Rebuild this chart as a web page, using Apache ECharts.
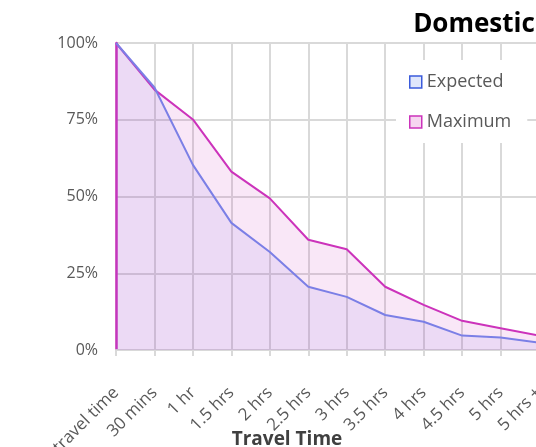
<!DOCTYPE html>
<html>
<head>
<meta charset="utf-8">
<script src="https://cdn.jsdelivr.net/npm/echarts@6/dist/echarts.min.js"></script>
<style>
  html, body { margin: 0; padding: 0; background: #fff; }
  #main { width: 536px; height: 447px; }
</style>
</head>
<body>
<div id="main"></div>
<script>
// categories on the x axis
var categories = ['No travel time', '30 mins', '1 hr', '1.5 hrs', '2 hrs', '2.5 hrs',
  '3 hrs', '3.5 hrs', '4 hrs', '4.5 hrs', '5 hrs', '5 hrs +'];
// share of trips (%)
var expected = [100, 85.5, 60.3, 41.4, 31.9, 20.6, 17.3, 11.4, 9.2, 4.7, 4.1, 2.4];
var maximum = [100, 84.8, 75.1, 58.1, 49.4, 35.9, 32.8, 20.6, 14.7, 9.5, 7.1, 4.7];
var yTicks = [0, 25, 50, 75, 100];

var FONT = 'Open Sans';
var myChart = echarts.init(document.getElementById('main'));

myChart.setOption({
  animation: false,
  title: [
    {
      text: 'Domestic',
      left: 469, top: 7, textAlign: 'center',
      textStyle: { fontFamily: FONT, fontSize: 26, fontWeight: 'bold', color: '#000' }
    },
    {
      text: 'Travel Time',
      left: 282, top: 425, textAlign: 'center',
      textStyle: { fontFamily: FONT, fontSize: 19, fontWeight: 'bold', color: '#404040' }
    }
  ],
  legend: {
    orient: 'vertical',
    left: 396, top: 60,
    padding: [13, 16, 12, 13],
    backgroundColor: '#fff',
    itemWidth: 12, itemHeight: 12,
    itemGap: 22,
    textStyle: { fontFamily: FONT, fontSize: 18, color: '#595959' },
    data: [
      { name: 'Expected', icon: 'rect',
        itemStyle: { color: '#dfe6fb', borderColor: '#3b5bdb', borderWidth: 1.5 } },
      { name: 'Maximum', icon: 'rect',
        itemStyle: { color: '#f6d6f0', borderColor: '#cc33bb', borderWidth: 1.5 } }
    ]
  },
  grid: { left: 116, top: 43, width: 423, height: 307, outerBoundsMode: 'none', containLabel: false },
  xAxis: {
    type: 'category',
    data: categories,
    boundaryGap: false,
    axisLine: { lineStyle: { color: '#d9d9d9', width: 2 } },
    axisTick: { show: true, length: 6, lineStyle: { color: '#d9d9d9', width: 2 } },
    axisLabel: { rotate: 45, margin: 40, fontFamily: FONT, fontSize: 17, color: '#595959' },
    splitLine: { show: true, lineStyle: { color: '#d9d9d9', width: 2 } }
  },
  yAxis: {
    type: 'value',
    min: yTicks[0], max: yTicks[yTicks.length - 1], interval: 25,
    axisLine: { show: true, lineStyle: { color: '#cc33bb', width: 2.5 } },
    axisTick: { show: false },
    axisLabel: { margin: 18, fontFamily: FONT, fontSize: 16, color: '#595959',
      formatter: function (v) { return v + '%'; } },
    splitLine: { lineStyle: { color: '#d9d9d9', width: 2 } }
  },
  series: [
    {
      name: 'Maximum', type: 'line', data: maximum,
      symbol: 'none',
      lineStyle: { color: '#cc33bb', width: 2 },
      itemStyle: { color: '#cc33bb' },
      areaStyle: { color: 'rgba(204,51,187,0.17)' },
      z: 2
    },
    {
      name: 'Expected', type: 'line', data: expected,
      symbol: 'none',
      lineStyle: { color: '#7b7fe6', width: 2 },
      itemStyle: { color: '#7b7fe6' },
      areaStyle: { color: 'rgba(110,90,225,0.13)' },
      z: 3
    }
  ]
});
</script>
</body>
</html>
